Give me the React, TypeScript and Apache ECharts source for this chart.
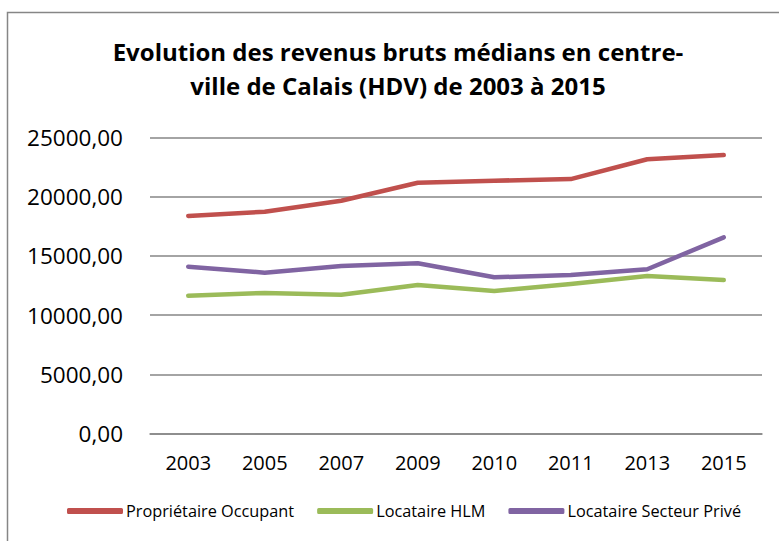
import React, { useEffect, useRef } from "react";
import * as echarts from "echarts";

const years = ["2003", "2005", "2007", "2009", "2010", "2011", "2013", "2015"];
const proprietaireOccupant = [18370, 18730, 19660, 21180, 21350, 21490, 23160, 23520];
const locataireHLM = [11640, 11870, 11720, 12540, 12040, 12630, 13300, 12960];
const locataireSecteurPrive = [14090, 13580, 14150, 14380, 13190, 13390, 13870, 16570];
const seriesNames = ["Propriétaire Occupant", "Locataire HLM", "Locataire Secteur Privé"];
const seriesColors = ["#C0504D", "#9BBB59", "#8064A2"];
const titleText = "Evolution des revenus bruts médians en centre-\nville de Calais (HDV) de 2003 à 2015";

const FONT = "'Open Sans', 'Noto Sans', sans-serif";

export default function App() {
  const ref = useRef<HTMLDivElement>(null);
  useEffect(() => {
    document.body.style.margin = "0";
    if (!ref.current) return;
    const chart = echarts.init(ref.current, null, { renderer: "svg" });
    const data = [proprietaireOccupant, locataireHLM, locataireSecteurPrive];
    chart.setOption({
      animation: false,
      backgroundColor: "#ffffff",
      textStyle: { fontFamily: FONT },
      graphic: [
        {
          type: "rect",
          shape: { x: 7.5, y: 12.5, width: 800, height: 600 },
          style: { fill: "none", stroke: "#868686", lineWidth: 1.5 },
          silent: true,
        },
        {
          type: "text",
          x: 398,
          y: 68,
          style: {
            text: titleText,
            textAlign: "center",
            textVerticalAlign: "middle",
            fontFamily: FONT,
            fontWeight: "bold",
            fontSize: 24,
            lineHeight: 34,
            fill: "#000000",
          },
        },
      ],
      legend: {
        left: 67,
        top: 503,
        padding: 0,
        itemWidth: 56,
        itemHeight: 6,
        itemGap: 23,
        icon: "roundRect",
        textStyle: { fontFamily: FONT, fontSize: 16.3, color: "#000000", padding: [0, 0, 0, -2] },
        data: seriesNames,
      },
      grid: { left: 150, right: 17, top: 137.5, bottom: 107.5, containLabel: false },
      xAxis: {
        type: "category",
        data: years,
        boundaryGap: true,
        axisLine: { show: true, lineStyle: { color: "#868686", width: 1.5 } },
        axisTick: { show: false },
        axisLabel: { fontFamily: FONT, fontSize: 20, color: "#000000", margin: 19 },
      },
      yAxis: {
        type: "value",
        min: 0,
        max: 25000,
        interval: 5000,
        axisLine: { show: false },
        axisTick: { show: false },
        splitLine: { lineStyle: { color: "#868686", width: 1.5 } },
        axisLabel: {
          fontFamily: FONT,
          fontSize: 22.5,
          color: "#000000",
          margin: 27,
          formatter: (v: number) => v.toFixed(2).replace(".", ","),
        },
      },
      series: seriesNames.map((name, i) => ({
        name,
        type: "line",
        data: data[i],
        showSymbol: false,
        symbol: "none",
        color: seriesColors[i],
        lineStyle: { width: 4.5, color: seriesColors[i], cap: "round", join: "round" },
      })),
    });
    return () => chart.dispose();
  }, []);
  return <div ref={ref} style={{ width: 779, height: 541 }} />;
}
